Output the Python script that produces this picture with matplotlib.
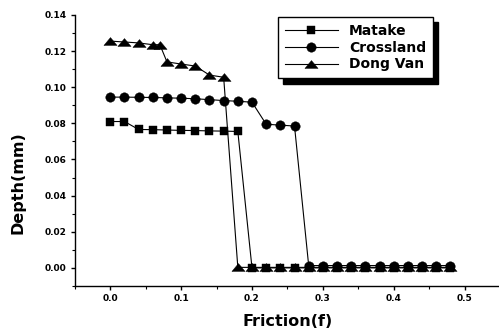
import numpy as np
import matplotlib as mpl
mpl.use("Agg")
from matplotlib import pyplot as plt
from matplotlib.ticker import MultipleLocator, FormatStrFormatter

# 摩擦系数 (横轴)
friction = [0.00, 0.02, 0.04, 0.06, 0.08, 0.10, 0.12, 0.14, 0.16, 0.18,
            0.20, 0.22, 0.24, 0.26, 0.28, 0.30, 0.32, 0.34, 0.36, 0.38,
            0.40, 0.42, 0.44, 0.46, 0.48]
matake = [0.0810, 0.0810, 0.0766, 0.0765, 0.0763, 0.0761, 0.0760, 0.0758, 0.0757, 0.0755,
          0.0000, 0.0000, 0.0000, 0.0000, 0.0000, 0.0000, 0.0000, 0.0000, 0.0000, 0.0000,
          0.0000, 0.0000, 0.0000, 0.0000, 0.0000]
crossland = [0.0945, 0.0945, 0.0944, 0.0943, 0.0941, 0.0939, 0.0936, 0.0931, 0.0926, 0.0922,
             0.0917, 0.0795, 0.0790, 0.0785, 0.0013, 0.0013, 0.0013, 0.0013, 0.0013, 0.0013,
             0.0013, 0.0013, 0.0013, 0.0013, 0.0013]
# Dong Van 多一个 0.07 的点
friction_dv = [0.00, 0.02, 0.04, 0.06, 0.07, 0.08, 0.10, 0.12, 0.14, 0.16,
               0.18, 0.20, 0.22, 0.24, 0.26, 0.28, 0.30, 0.32, 0.34, 0.36,
               0.38, 0.40, 0.42, 0.44, 0.46, 0.48]
dongvan = [0.1255, 0.1250, 0.1245, 0.1235, 0.1235, 0.1140, 0.1128, 0.1117, 0.1067, 0.1055,
           0.0003, 0.0003, 0.0003, 0.0003, 0.0003, 0.0003, 0.0003, 0.0003, 0.0003, 0.0003,
           0.0003, 0.0003, 0.0003, 0.0003, 0.0003, 0.0003]

plt.rcParams['font.family'] = ['DejaVu Sans']
plt.rcParams['font.weight'] = 'bold'

# 扁一点的三角形
flat_tri = [(-1, -0.6), (1, -0.6), (0, 0.6), (-1, -0.6)]

fig = plt.figure(figsize=(4.99, 3.31), dpi=100)
ax = fig.add_axes([0.150, 0.136, 0.852, 0.819])

ax.plot(friction, matake, color='black', lw=0.8, marker='s', markersize=6.0, mew=0.3, label='Matake')
ax.plot(friction, crossland, color='black', lw=0.8, marker='o', markersize=6.8, mew=0.3, label='Crossland')
ax.plot(friction_dv, dongvan, color='black', lw=0.8, marker=flat_tri, markersize=9.5, mew=0.3, label='Dong Van')

ax.set_xlim(-0.05, 0.55)
ax.set_ylim(-0.01, 0.14)
ax.spines['top'].set_visible(False)
ax.spines['right'].set_visible(False)
ax.spines['left'].set_linewidth(1.0)
ax.spines['bottom'].set_linewidth(1.0)

ax.xaxis.set_major_locator(MultipleLocator(0.1))
ax.xaxis.set_minor_locator(MultipleLocator(0.05))
ax.yaxis.set_major_locator(MultipleLocator(0.02))
ax.yaxis.set_minor_locator(MultipleLocator(0.01))
ax.xaxis.set_major_formatter(FormatStrFormatter('%.1f'))
ax.yaxis.set_major_formatter(FormatStrFormatter('%.2f'))
ax.tick_params(which='major', direction='out', length=3, width=1, labelsize=6.5, pad=3)
ax.tick_params(which='minor', direction='out', length=2, width=0.8)

ax.set_xlabel('Friction(f)', fontsize=11.5, fontweight='bold')
ax.set_ylabel('Depth(mm)', fontsize=11.5, fontweight='bold')
ax.xaxis.set_label_coords(0.5, -0.105)
ax.yaxis.set_label_coords(-0.115, 0.38)

leg = ax.legend(loc='upper left', bbox_to_anchor=(0.557, 0.949), bbox_transform=fig.transFigure,
                borderaxespad=0, fancybox=False, frameon=True, edgecolor='black', framealpha=1,
                shadow={'ox': 4, 'oy': -4, 'color': 'black', 'alpha': 1},
                prop={'size': 10, 'weight': 'bold'}, handlelength=3.8, labelspacing=0.2,
                handletextpad=0.8, borderpad=0.5)
leg.get_frame().set_linewidth(1.0)

fig.savefig('out.png', dpi=100)
